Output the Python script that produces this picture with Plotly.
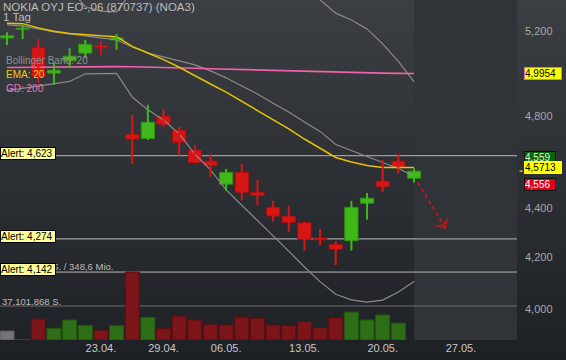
import math
import plotly.graph_objects as go

# ---------------- data ----------------
dates = ["11.04.", "12.04.", "15.04.", "16.04.", "17.04.", "18.04.", "23.04.", "24.04.", "25.04.",
         "26.04.", "29.04.", "30.04.", "02.05.", "03.05.", "06.05.", "07.05.", "08.05.", "09.05.",
         "10.05.", "13.05.", "14.05.", "15.05.", "16.05.", "17.05.", "20.05.", "21.05.", "22.05."]
future_dates = ["23.05.", "24.05.", "27.05."]
tick_labels = ["23.04.", "29.04.", "06.05.", "13.05.", "20.05.", "27.05."]

open_ = [5.165, 5.207, 5.121, 4.997, 5.055, 5.092, 5.129, 5.156, 4.717, 4.698, 4.798, 4.735, 4.647, 4.599,
         4.500, 4.551, 4.466, 4.403, 4.366, 4.339, 4.278, 4.252, 4.266, 4.420, 4.513, 4.599, 4.525]
high = [5.194, 5.233, 5.161, 5.047, 5.116, 5.156, 5.151, 5.184, 4.804, 4.850, 4.831, 4.750, 4.670, 4.629,
        4.565, 4.587, 4.518, 4.430, 4.409, 4.343, 4.314, 4.266, 4.430, 4.463, 4.604, 4.630, 4.568]
low = [5.132, 5.160, 4.950, 4.942, 5.020, 5.068, 5.084, 5.108, 4.587, 4.692, 4.751, 4.623, 4.590, 4.532,
       4.472, 4.432, 4.412, 4.344, 4.303, 4.227, 4.249, 4.170, 4.227, 4.352, 4.467, 4.545, 4.507]
close = [5.177, 5.214, 4.981, 5.011, 5.078, 5.135, 5.118, 5.166, 4.695, 4.771, 4.762, 4.682, 4.593, 4.580,
         4.551, 4.466, 4.453, 4.367, 4.341, 4.272, 4.270, 4.232, 4.403, 4.441, 4.490, 4.573, 4.556]

# volume in millions of shares (last day: none yet)
volume = [9.8, 0.5, 22.9, 12.8, 21.8, 16.0, 10.6, 15.6, 74.2, 24.7, 12.4, 26.2, 21.8, 17.1, 16.4, 25.1,
          23.6, 16.4, 16.0, 20.0, 13.4, 24.4, 30.5, 21.8, 27.3, 18.5, None]
volume_max_shares = 74203736
turnover_mio = 348.6

ema20 = [5.238, 5.236, 5.215, 5.198, 5.188, 5.181, 5.176, 5.172, 5.125, 5.093, 5.061, 5.025, 4.984, 4.946,
         4.908, 4.866, 4.827, 4.783, 4.741, 4.696, 4.655, 4.615, 4.595, 4.580, 4.572, 4.572, 4.5713]
bb_mid = [5.230, 5.225, 5.210, 5.195, 5.186, 5.176, 5.166, 5.156, 5.122, 5.093, 5.074, 5.055, 5.036, 5.008,
          4.975, 4.937, 4.900, 4.857, 4.817, 4.772, 4.730, 4.672, 4.646, 4.617, 4.593, 4.567, 4.535]
bb_upper = [5.545, 5.525, 5.485, 5.445, 5.414, 5.320, 5.298, 5.294, 5.400, 5.400, 5.405, 5.420, 5.440, 5.455,
            5.474, 5.461, 5.449, 5.428, 5.409, 5.382, 5.355, 5.288, 5.254, 5.210, 5.137, 5.053, 4.957]
bb_lower = [4.915, 4.925, 4.935, 4.945, 4.958, 4.994, 4.996, 4.996, 4.886, 4.827, 4.781, 4.719, 4.630, 4.561,
            4.476, 4.413, 4.351, 4.286, 4.225, 4.162, 4.105, 4.056, 4.035, 4.026, 4.034, 4.065, 4.105]
gd200 = [5.024, 5.025, 5.026, 5.026, 5.027, 5.027, 5.028, 5.028, 5.027, 5.026, 5.024, 5.022, 5.020, 5.018,
         5.016, 5.013, 5.010, 5.008, 5.006, 5.004, 5.002, 5.000, 4.999, 4.998, 4.997, 4.996, 4.9954]

alerts = [4.623, 4.274, 4.142]
quote_ask = 4.559
quote_bid = 4.556
forecast_target = 4.317

price_ticks = [4.0, 4.2, 4.4, 4.8, 5.2]

# ---------------- styling ----------------
FONT = "Liberation Sans, Arial, sans-serif"
RED = "#d81616"
RED_EDGE = "#a80f0f"
GREEN = "#40b81a"
GREEN_EDGE = "#2d8c12"
VOL_RED = "#7c1519"
VOL_GREEN = "#2e6e16"
VOL_GREY = "#747474"

x_range = [-0.447, 32.58]
y_log_range = [0.58939, 0.72868]
vol_range = [0, volume_max_shares / 1e6 * 5.0]

def de(v, nd):
    return f"{v:.{nd}f}".replace(".", ",")

def thousands(v):
    return f"{v:,}".replace(",", ".")

idx = list(range(len(dates)))
all_dates = dates + future_dates
tick_pos = [all_dates.index(t) for t in tick_labels]

fig = go.Figure()

# volume bars (colour from close-to-close change)
vx, vy, vc, ve = [], [], [], []
for i, v in enumerate(volume):
    if v is None:
        continue
    if i == 0:
        c, e = VOL_GREY, "#5a5a5a"
    elif close[i] >= close[i - 1]:
        c, e = VOL_GREEN, "#24560f"
    else:
        c, e = VOL_RED, "#5c0f12"
    vx.append(i); vy.append(v); vc.append(c); ve.append(e)
fig.add_trace(go.Bar(x=vx, y=vy, yaxis="y2", width=0.9, marker=dict(color=vc, line=dict(color=ve, width=1)),
                     hoverinfo="skip", showlegend=False))

# indicator lines
fig.add_trace(go.Scatter(x=idx, y=bb_upper, mode="lines", line=dict(color="#8a8a8a", width=1.2),
                         hoverinfo="skip", showlegend=False))
fig.add_trace(go.Scatter(x=idx, y=bb_lower, mode="lines", line=dict(color="#8a8a8a", width=1.2),
                         hoverinfo="skip", showlegend=False))
fig.add_trace(go.Scatter(x=idx, y=bb_mid, mode="lines", line=dict(color="#8a8a8a", width=1.2),
                         hoverinfo="skip", showlegend=False))
fig.add_trace(go.Scatter(x=idx, y=gd200, mode="lines", line=dict(color="#f062ad", width=1.6),
                         hoverinfo="skip", showlegend=False))
fig.add_trace(go.Scatter(x=idx, y=ema20, mode="lines", line=dict(color="#e6c200", width=1.5),
                         hoverinfo="skip", showlegend=False))

# candles: wicks
for up in (True, False):
    wx, wy = [], []
    for i in idx:
        if (close[i] >= open_[i]) == up:
            wx += [i, i, None]
            wy += [low[i], high[i], None]
    fig.add_trace(go.Scatter(x=wx, y=wy, mode="lines", line=dict(color=GREEN if up else RED, width=2),
                             hoverinfo="skip", showlegend=False))

# candles: bodies
for up in (True, False):
    bx, bb, bh = [], [], []
    for i in idx:
        if (close[i] >= open_[i]) == up:
            lo, hi = min(open_[i], close[i]), max(open_[i], close[i])
            bx.append(i); bb.append(lo); bh.append(max(hi - lo, 0.004))
    fig.add_trace(go.Bar(x=bx, y=bh, base=bb, width=0.85,
                         marker=dict(color=GREEN if up else RED,
                                     line=dict(color=GREEN_EDGE if up else RED_EDGE, width=1)),
                         hoverinfo="skip", showlegend=False))

# forecast arrow (dashed shaft + open arrow head)
last = len(dates) - 1
target_x = all_dates.index("24.05.")
fig.add_trace(go.Scatter(x=[last + 0.25, target_x], y=[low[last], forecast_target], mode="lines+markers",
                         line=dict(color="#e01010", width=1.5, dash="4px,3px"),
                         marker=dict(symbol=["circle", "arrow-wide-open"], size=[0, 11], angleref="previous",
                                     color="#e01010", line=dict(color="#e01010", width=1.5),
                                     standoff=0),
                         hoverinfo="skip", showlegend=False))

# ---------------- shapes ----------------
shapes = []
# background gradient (whole canvas)
H, PH = 360.0, 340.0
n = 36
top_c, bot_c = (59, 62, 66), (29, 32, 36)
for k in range(n):
    t = (k + 0.5) / n
    c = tuple(round(top_c[j] + (bot_c[j] - top_c[j]) * t) for j in range(3))
    y0 = k * H / n
    y1 = (k + 1) * H / n + 0.5
    shapes.append(dict(type="rect", xref="paper", yref="paper", x0=-0.01, x1=1.1,
                       y0=1 - y0 / PH, y1=1 - y1 / PH, fillcolor="rgb(%d,%d,%d)" % c,
                       line=dict(width=0), layer="below"))
# future region
shapes.append(dict(type="rect", xref="x", yref="paper", x0=last, x1=x_range[1], y0=0, y1=1,
                   fillcolor="#303438", line=dict(width=0), layer="below"))
# alert lines
for a in alerts:
    shapes.append(dict(type="line", xref="paper", yref="y", x0=0, x1=1, y0=a, y1=a,
                       line=dict(color="#9c9c9c", width=1.2), layer="below"))
# volume reference lines
for v in (volume_max_shares / 1e6, volume_max_shares / 2e6):
    shapes.append(dict(type="line", xref="paper", yref="y2", x0=0, x1=1, y0=v, y1=v,
                       line=dict(color="#6e6e6e", width=1), layer="below"))
# last price marker
lp = (math.log10(close[-1]) - y_log_range[0]) / (y_log_range[1] - y_log_range[0])
shapes.append(dict(type="line", xref="paper", yref="paper", x0=1.005, x1=1.011, y0=lp, y1=lp,
                   line=dict(color="#b0b0b0", width=1.5)))

# ---------------- annotations ----------------
ann = []
def text(t, dy, size, color, dx=1):
    ann.append(dict(text=t, xref="paper", yref="paper", x=0, y=1, xanchor="left", yanchor="middle",
                    xshift=dx, yshift=-dy, showarrow=False, font=dict(family=FONT, size=size, color=color)))

text("NOKIA OYJ EO-,06 (870737) (NOA3)", 6.5, 11.5, "#bdbdbd")
text("1 Tag", 16.5, 11.5, "#bdbdbd")
text("Bollinger Band: 20", 60.5, 10, "#909090", dx=4)
text("EMA: 20", 74.2, 10, "#f0d000", dx=4)
text("GD: 200", 88.5, 10, "#e878b8", dx=4)

# volume labels
ann.append(dict(text=f"{thousands(volume_max_shares)} S. / {de(turnover_mio, 1)} Mio.", xref="paper", yref="y2",
                x=0, y=volume_max_shares / 1e6, xanchor="left", yanchor="middle", yshift=5.5, showarrow=False,
                font=dict(family=FONT, size=9.5, color="#bdbdbd")))
ann.append(dict(text=f"{thousands(volume_max_shares // 2)} S.", xref="paper", yref="y2",
                x=0, y=volume_max_shares / 2e6, xanchor="left", yanchor="middle", yshift=5, showarrow=False,
                font=dict(family=FONT, size=9.5, color="#bdbdbd")))

# alert labels
for a in alerts:
    ann.append(dict(text=f"Alert: {de(a, 3)}", xref="paper", yref="y", x=0, y=math.log10(a),
                    xanchor="left", yanchor="middle", yshift=2.5, showarrow=False, width=54, align="left",
                    bgcolor="#ffff99", bordercolor="#000000", borderwidth=1, borderpad=0,
                    font=dict(family=FONT, size=10, color="#000000")))

# right-hand value boxes
def rlabel(val, nd, shift, bg, border, fc, w):
    ann.append(dict(text=de(val, nd), xref="paper", yref="y", x=1, y=math.log10(val), xanchor="left",
                    yanchor="middle", xshift=7, yshift=shift, showarrow=False, width=w, align="left",
                    bgcolor=bg, bordercolor=border, borderwidth=1, borderpad=0,
                    font=dict(family=FONT, size=10, color=fc)))

rlabel(gd200[-1], 4, 0, "#ffff00", "#e070b0", "#000000", 36)
rlabel(quote_ask, 3, 12.5, "#0a640a", "#111111", "#d8f5d8", 30)
rlabel(quote_bid, 3, -13, "#e0001a", "#111111", "#ffffff", 30)
rlabel(ema20[-1], 4, 0, "#ffff00", "#ffff00", "#000000", 36)

fig.update_layout(
    width=566, height=360,
    margin=dict(l=0, r=49, t=0, b=20),
    paper_bgcolor="#2c2f33", plot_bgcolor="rgba(0,0,0,0)",
    barmode="overlay", showlegend=False,
    font=dict(family=FONT),
    shapes=shapes, annotations=ann,
    xaxis=dict(range=x_range, showgrid=False, zeroline=False, showline=False, ticks="",
               tickvals=tick_pos, ticktext=tick_labels, tickfont=dict(size=11, color="#c8c8c8"),
               automargin=False),
    yaxis=dict(type="log", range=y_log_range, side="right", showgrid=False, zeroline=False, showline=False,
               ticks="", tickvals=price_ticks, ticktext=[de(v, 3) for v in price_ticks],
               tickfont=dict(size=11, color="#a8a8a8"), ticklabelstandoff=7, automargin=False),
    yaxis2=dict(overlaying="y", range=vol_range, visible=False),
)

fig.write_html("out.html", config={"displayModeBar": False},
               post_script="document.body.style.margin='0';document.body.style.padding='0';")
